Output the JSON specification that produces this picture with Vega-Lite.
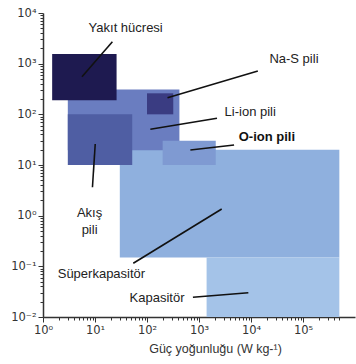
{
  "$schema": "https://vega.github.io/schema/vega-lite/v6.json",
  "width": 312,
  "height": 304,
  "autosize": {"type": "none"},
  "padding": {"left": 43, "top": 13, "right": 1, "bottom": 47},
  "background": "white",
  "config": {
    "view": {"stroke": null},
    "axis": {"domainColor": "#333", "tickColor": "#333", "labelColor": "#333", "labelFont": "DejaVu Sans", "labelFontSize": 11.5, "titleFont": "Liberation Sans", "titleFontSize": 12.5, "titleFontWeight": "normal", "titleColor": "#333", "grid": false, "labelOverlap": false, "labelFlush": false, "domainWidth": 1.5}
  },
  "datasets": {
    "boxes": [
      {"name": "Süperkapasitör", "x": 30, "x2": 500000, "y": 0.15, "y2": 20},
      {"name": "Kapasitör", "x": 1400, "x2": 500000, "y": 0.01, "y2": 0.15},
      {"name": "Li-ion pili", "x": 3, "x2": 420, "y": 19.5, "y2": 310},
      {"name": "Akış pili", "x": 3, "x2": 52, "y": 10, "y2": 100},
      {"name": "Na-S pili", "x": 100, "x2": 320, "y": 100, "y2": 260},
      {"name": "O-ion pili", "x": 200, "x2": 2100, "y": 10, "y2": 30},
      {"name": "Yakıt hücresi", "x": 1.5, "x2": 26, "y": 190, "y2": 1550}
    ],
    "lines": [
      {"name": "Yakıt hücresi", "x": 21.6, "x2": 5.62, "y": 2716, "y2": 553},
      {"name": "Na-S pili", "x": 13540, "x2": 248, "y": 716, "y2": 213},
      {"name": "Li-ion pili", "x": 2217, "x2": 116, "y": 83.5, "y2": 50.7},
      {"name": "O-ion pili", "x": 4730, "x2": 682, "y": 24.8, "y2": 19.8},
      {"name": "Akış pili", "x": 10.1, "x2": 8.93, "y": 26, "y2": 3.63},
      {"name": "Süperkapasitör", "x": 54.5, "x2": 2735, "y": 0.115, "y2": 1.355},
      {"name": "Kapasitör", "x": 764, "x2": 8890, "y": 0.0245, "y2": 0.0302}
    ],
    "labels": [
      {"label": "Yakıt hücresi", "x": 38.9, "y": 5060},
      {"label": "Na-S pili", "x": 67000, "y": 1236},
      {"label": "Li-ion pili", "x": 9670, "y": 113},
      {"label": "O-ion pili", "x": 20200, "y": 36.2},
      {"label": "Akış|pili", "x": 7.87, "y": 1.11},
      {"label": "Süperkapasitör", "x": 13.3, "y": 0.0697},
      {"label": "Kapasitör", "x": 156, "y": 0.024}
    ]
  },
  "layer": [
    {
      "data": {"name": "boxes"},
      "mark": {"type": "rect"},
      "encoding": {
        "x": {"field": "x", "type": "quantitative", "scale": {"type": "log", "domain": [1, 500000]},
          "axis": {
            "title": "Güç yoğunluğu (W kg-¹)",
            "titlePadding": 7,
            "titleX": 172,
            "values": [1,2,3,4,5,6,7,8,9,10,20,30,40,50,60,70,80,90,100,200,300,400,500,600,700,800,900,1000,2000,3000,4000,5000,6000,7000,8000,9000,10000,20000,30000,40000,50000,60000,70000,80000,90000,100000,200000,300000,400000,500000],
            "labelExpr": "datum.value==1?'10⁰':datum.value==10?'10¹':datum.value==100?'10²':datum.value==1000?'10³':datum.value==10000?'10⁴':datum.value==100000?'10⁵':''",
            "tickSize": {"condition": {"test": "indexof([1,10,100,1000,10000,100000], datum.value) >= 0", "value": 5}, "value": 3}
          }},
        "x2": {"field": "x2"},
        "y": {"field": "y", "type": "quantitative", "scale": {"type": "log", "domain": [0.01, 10000]},
          "axis": {
            "title": null,
            "values": [0.01,0.02,0.03,0.04,0.05,0.06,0.07,0.08,0.09,0.1,0.2,0.3,0.4,0.5,0.6,0.7,0.8,0.9,1,2,3,4,5,6,7,8,9,10,20,30,40,50,60,70,80,90,100,200,300,400,500,600,700,800,900,1000,2000,3000,4000,5000,6000,7000,8000,9000,10000],
            "labelExpr": "datum.value==0.01?'10⁻²':datum.value==0.1?'10⁻¹':datum.value==1?'10⁰':datum.value==10?'10¹':datum.value==100?'10²':datum.value==1000?'10³':datum.value==10000?'10⁴':''",
            "tickSize": {"condition": {"test": "indexof([0.01,0.1,1,10,100,1000,10000], datum.value) >= 0", "value": 5}, "value": 3}
          }},
        "y2": {"field": "y2"},
        "color": {"field": "name", "type": "nominal", "legend": null,
          "scale": {"domain": ["Süperkapasitör", "Kapasitör", "Li-ion pili", "Akış pili", "Na-S pili", "O-ion pili", "Yakıt hücresi"],
                    "range": ["#8fb0de", "#a4c3e8", "#6a7dc0", "#4f5ea3", "#3a3c82", "#7f9ad2", "#1e1a50"]}}
      }
    },
    {
      "data": {"name": "lines"},
      "mark": {"type": "rule", "color": "#111", "strokeWidth": 1.6},
      "encoding": {
        "x": {"field": "x", "type": "quantitative"},
        "x2": {"field": "x2"},
        "y": {"field": "y", "type": "quantitative"},
        "y2": {"field": "y2"}
      }
    },
    {
      "data": {"name": "labels"},
      "transform": [{"filter": "datum.label !== 'O-ion pili'"}],
      "mark": {"type": "text", "font": "Liberation Sans", "fontSize": 13, "color": "#222", "lineBreak": "|", "lineHeight": 16.5, "align": "center", "baseline": "middle"},
      "encoding": {
        "x": {"field": "x", "type": "quantitative"},
        "y": {"field": "y", "type": "quantitative"},
        "text": {"field": "label"}
      }
    },
    {
      "data": {"name": "labels"},
      "transform": [{"filter": "datum.label === 'O-ion pili'"}],
      "mark": {"type": "text", "font": "Liberation Sans", "fontSize": 13, "fontWeight": "bold", "color": "#111", "align": "center", "baseline": "middle"},
      "encoding": {
        "x": {"field": "x", "type": "quantitative"},
        "y": {"field": "y", "type": "quantitative"},
        "text": {"field": "label"}
      }
    },
    {
      "mark": {"type": "rule", "color": "#333", "strokeWidth": 1.5},
      "encoding": {"y": {"datum": 10000}}
    }
  ]
}
